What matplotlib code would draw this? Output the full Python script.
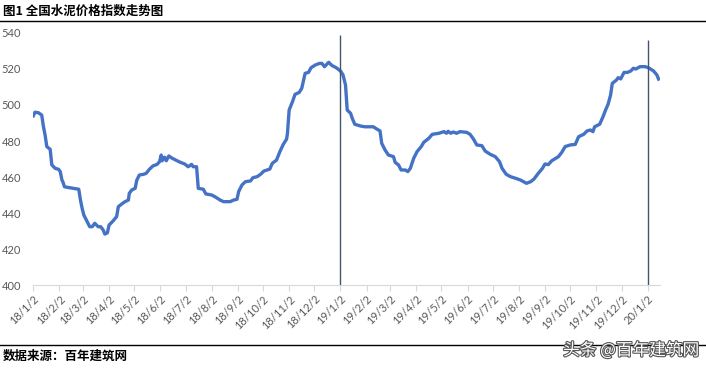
import matplotlib.pyplot as plt
import matplotlib.patheffects as pe
import pandas as pd

plt.rcParams['font.family'] = ['Lato', 'Noto Sans CJK SC', 'DejaVu Sans']

# 天数（自 2018-01-02 起）与水泥价格指数
days = [0, 2, 6, 10, 12, 14, 16, 20, 22, 26, 30, 32, 34, 35, 37, 40, 54, 56,
        58, 60, 64, 67, 70, 73, 77, 80, 83, 85, 88, 90, 95, 99, 101, 105, 109,
        113, 114, 117, 121, 123, 126, 131, 134, 138, 142, 147, 150, 152, 153,
        156, 158, 161, 165, 171, 174, 180, 184, 188, 190, 194, 196, 202, 205,
        212, 217, 222, 226, 234, 238, 242, 244, 248, 252, 258, 261, 266, 270,
        274, 281, 284, 289, 293, 297, 301, 302, 304, 308, 311, 316, 319, 323,
        327, 330, 335, 340, 343, 346, 351, 355, 360, 365, 368, 371, 373, 377,
        379, 382, 389, 394, 404, 408, 412, 414, 418, 422, 428, 430, 434, 437,
        442, 445, 448, 452, 456, 461, 464, 470, 474, 482, 488, 491, 493, 496,
        499, 503, 507, 515, 519, 523, 527, 533, 537, 543, 549, 554, 557, 562,
        567, 573, 579, 586, 591, 595, 600, 605, 608, 612, 616, 624, 628, 632,
        638, 644, 648, 654, 658, 662, 665, 667, 673, 677, 680, 683, 686, 688,
        693, 695, 698, 702, 706, 710, 713, 716, 721, 727, 731, 737, 741, 743]
price = [494.0, 496.0, 495.7, 494.4, 488.0, 483.3, 476.9, 475.4, 466.7, 464.8,
         464.3, 463.0, 458.3, 457.5, 454.6, 454.3, 453.2, 447.2, 442.6, 438.9,
         435.2, 432.4, 432.4, 434.3, 432.4, 432.4, 430.6, 428.3, 429.0, 433.3,
         435.7, 438.0, 443.5, 445.0, 446.3, 447.2, 450.9, 452.8, 453.7, 458.3,
         461.1, 461.5, 462.0, 464.3, 466.1, 467.0, 468.5, 472.2, 469.0, 471.0,
         469.0, 471.7, 470.4, 469.0, 468.3, 467.2, 465.7, 467.0, 465.7, 465.7,
         453.7, 453.2, 450.6, 450.0, 448.7, 447.2, 446.3, 446.3, 447.2, 447.6,
         451.9, 455.6, 457.4, 457.8, 459.6, 460.2, 461.5, 463.3, 464.4, 467.6,
         469.4, 474.1, 478.1, 481.1, 484.3, 497.2, 501.9, 505.9, 507.0, 509.3,
         517.6, 518.1, 520.7, 522.2, 523.1, 523.1, 521.3, 523.7, 521.9, 520.7,
         518.9, 516.7, 511.1, 497.2, 495.4, 492.6, 489.3, 488.3, 487.9, 487.9,
         486.7, 485.6, 478.7, 475.0, 472.2, 471.3, 468.1, 466.7, 463.9, 463.9,
         463.0, 464.8, 470.4, 474.1, 476.9, 479.3, 481.5, 483.7, 484.3, 485.2,
         484.3, 485.4, 484.3, 485.0, 484.3, 485.2, 484.8, 483.7, 481.1, 477.8,
         477.4, 474.4, 472.6, 471.3, 468.5, 464.8, 461.5, 460.2, 459.3, 458.3,
         456.5, 457.4, 458.9, 462.0, 464.8, 467.2, 466.9, 469.0, 471.3, 473.7,
         476.9, 477.8, 478.1, 482.4, 483.7, 485.6, 486.1, 485.2, 487.9, 489.3,
         493.5, 497.2, 500.4, 505.6, 512.0, 513.9, 515.2, 514.5, 518.1, 518.1,
         518.9, 520.4, 520.0, 521.3, 521.3, 520.7, 518.9, 516.7, 514.4]

start = pd.Timestamp('2018-01-02')
dates = start + pd.to_timedelta(days, unit='D')

# 年初分隔线
mark_dates = pd.to_datetime(['2019-01-02', '2020-01-02'])
mark_tops = [539, 536]

tick_dates = pd.date_range('2018-01-01', '2020-01-01', freq='MS') + pd.Timedelta(days=1)
tick_labels = [f'{d.year % 100}/{d.month}/{d.day}' for d in tick_dates]

fig = plt.figure(figsize=(7.06, 3.69), dpi=100)
ax = fig.add_axes([0.0472, 0.2276, 0.888, 0.683])

ax.plot(dates, price, color='#4472c4', lw=2.4, solid_joinstyle='round')
ax.vlines(mark_dates, 400, mark_tops, color='#44546a', lw=1.0)

ax.set_xlim(start, start + pd.Timedelta(days=745))
ax.set_ylim(400, 540)
ax.set_yticks(range(400, 541, 20))
ax.set_xticks(tick_dates)
ax.set_xticklabels(tick_labels, rotation=45, ha='right', rotation_mode='anchor')

for s in ['top', 'right', 'left']:
    ax.spines[s].set_visible(False)
ax.spines['bottom'].set_color('#d9d9d9')
ax.tick_params(axis='y', length=0, pad=9, labelsize=8, labelcolor='#595959')
ax.tick_params(axis='x', length=4, color='#d9d9d9', pad=2, labelsize=8,
               labelcolor='#595959')

# 标题与来源
fig.text(0.004, 0.968, '图1 全国水泥价格指数走势图', fontsize=9, fontweight='heavy',
         family=['Noto Sans CJK SC'], va='center')
fig.add_artist(plt.Line2D([0, 1], [0.943, 0.943], color='black', lw=1.0))
fig.add_artist(plt.Line2D([0, 1], [0.065, 0.065], color='black', lw=1.0))
fig.text(0.004, 0.035, '数据来源：百年建筑网', fontsize=9, fontweight='heavy',
         family=['Noto Sans CJK SC'], va='center')
wm = fig.text(0.99, 0.05, '头条 @百年建筑网', fontsize=12, color='white',
              family=['Noto Sans CJK SC'], ha='right', va='center')
wm.set_path_effects([pe.withStroke(linewidth=1.6, foreground='#555555')])

fig.savefig('out.png', dpi=100)
